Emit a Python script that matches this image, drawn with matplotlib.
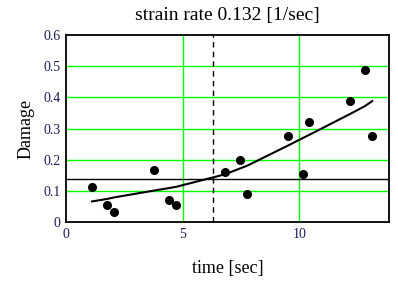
import numpy as np
import matplotlib.pyplot as plt

# measured data
time = [1.12, 1.76, 2.07, 3.79, 4.43, 4.73, 6.82, 7.47, 7.78,
        9.51, 10.17, 10.44, 12.19, 12.82, 13.13]
damage = [0.111, 0.056, 0.033, 0.166, 0.071, 0.055, 0.159, 0.199, 0.089,
          0.277, 0.155, 0.322, 0.388, 0.488, 0.277]

# fitted curve at the same times
fit = [0.066, 0.074, 0.079, 0.101, 0.109, 0.113, 0.153, 0.172, 0.181,
       0.245, 0.270, 0.280, 0.347, 0.372, 0.388]

d_crit = 0.137
t_crit = 6.32
x_ticks = [0, 5, 10]
y_ticks = [0, 0.1, 0.2, 0.3, 0.4, 0.5, 0.6]

plt.rcParams['font.family'] = 'Liberation Serif'

fig = plt.figure(figsize=(3.98, 2.88), dpi=100)
ax = fig.add_axes([66 / 398, 1 - 222 / 288, 323 / 398, 187 / 288])

# grid lines
for t in [5, 10]:
    ax.axvline(t, color='#00ff00', lw=1, zorder=1)
for d in [0.1, 0.2, 0.3, 0.4, 0.5]:
    ax.axhline(d, color='#00ff00', lw=1, zorder=1)

ax.axhline(d_crit, color='black', lw=1, zorder=2)
ax.axvline(t_crit, color='black', lw=1, ls=(0, (4, 3)), zorder=2)

ax.plot(time, fit, color='black', lw=1.5, zorder=3)
ax.plot(time, damage, 'o', color='black', ms=5.5, zorder=4)

ax.set_xlim(0, 13.85)
ax.set_ylim(0, 0.6)
ax.set_xticks(x_ticks)
ax.set_xticklabels([str(t) for t in x_ticks])
ax.set_yticks(y_ticks)
ax.set_yticklabels(['0', '0.1', '0.2', '0.3', '0.4', '0.5', '0.6'])
ax.tick_params(length=0, labelsize=10, labelcolor='#1c1c5c', pad=4)

for s in ax.spines.values():
    s.set_linewidth(1.3)
    s.set_color('black')

ax.set_title('strain rate 0.132 [1/sec]', fontsize=14, pad=11)
ax.set_xlabel('time [sec]', fontsize=13, labelpad=14)
ax.set_ylabel('Damage', fontsize=13, labelpad=6)

fig.savefig('out.png', dpi=100)
